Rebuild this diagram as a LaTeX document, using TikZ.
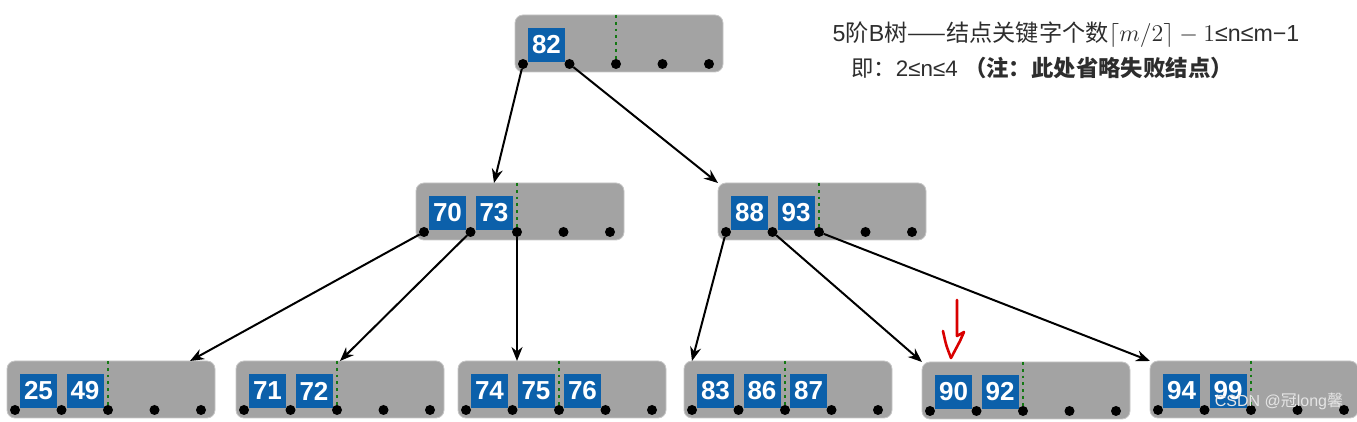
\documentclass[tikz,border=0pt]{standalone}
\usepackage{fontspec}
\setmainfont{Liberation Sans}
\newfontfamily\cjk{Noto Sans CJK SC}
\usetikzlibrary{arrows.meta,calc}

\definecolor{boxgray}{RGB}{163,163,163}
\definecolor{keyblue}{RGB}{12,96,170}
\definecolor{mingreen}{RGB}{20,120,20}
\definecolor{textgray}{RGB}{45,45,45}

% one B-tree node: name, left, top, keys
\newcommand{\btnode}[4]{%
  \node[btbox] (#1) at (#2,#3) {};
  \draw[minline] (#2+101,#3) -- (#2+101,#3+49);
  \foreach \k [count=\j from 0] in {#4}
    \node[btkey] (#1-k\j) at (#2+31.5+46.5*\j,#3+30) {\k};
  \foreach \i in {0,...,4}
    \node[ptr] (#1-\i) at (#2+8+46.5*\i,#3+49) {};
}

\begin{document}
\begin{tikzpicture}[x=0.5pt,y=-0.5pt,inner sep=0pt,outer sep=0pt,
btbox/.style={draw=gray!45,fill=boxgray,rounded corners=4pt,anchor=north west,minimum width=104pt,minimum height=28.5pt},
btkey/.style={fill=keyblue,text=white,minimum width=18.5pt,minimum height=17pt,font=\fontsize{13}{13}\selectfont\bfseries},
ptr/.style={circle,fill=black,minimum size=5pt},
minline/.style={mingreen,dotted,line width=1.4pt},
link/.style={line width=1pt,-{Stealth[length=7pt,width=5.5pt]}},
handred/.style={red!85!black,line width=1.3pt,line cap=round,line join=round}]

\useasboundingbox (0,0) rectangle (1357,422);

\btnode{r}{515}{15}{82}
\btnode{a}{416}{183}{70,73}
\btnode{b}{718}{183}{88,93}
\btnode{l1}{7}{361}{25,49}
\btnode{l2}{236}{361}{71,72}
\btnode{l3}{458}{361}{74,75,76}
\btnode{l4}{684}{361}{83,86,87}
\btnode{l5}{922}{362}{90,92}
\btnode{l6}{1150}{361}{94,99}

\draw[link] (r-0) -- (a-k1.north |- a.north);
\draw[link] (r-1) -- (b.north west);
\draw[link] (a-0) -- ($(l1.north east)+(-25,0)$);
\draw[link] (a-1) -- (l2.north);
\draw[link] (a-2) -- (a-2 |- l3.north);
\draw[link] (b-0) -- (l4-0 |- l4.north);
\draw[link] (b-1) -- (l5.north west);
\draw[link] (b-2) -- (l6.north west);

% hand-drawn mark
\draw[handred] (957,300) -- (957,336) -- (964,332) -- (960,341) .. controls (956,349) .. (951,358);
\draw[handred] (943,331) .. controls (946,345) .. (951,358);

\node[text=textgray,font=\fontsize{11.6}{11.6}\selectfont] (title) at (1066,35)
  {5{\cjk 阶}B{\cjk 树——结点关键字个数}$\lceil m/2\rceil - 1$≤n≤m−1};
\node[text=textgray,font=\fontsize{11.2}{11.2}\selectfont] (note) at (1042,68)
  {{\cjk 即：}2≤n≤4 {\cjk\bfseries （注：此处省略失败结点）}};

\node[text=gray!20,font=\fontsize{8}{8}\selectfont] (mark) at (1279,401) {CSDN @{\cjk 冠}long{\cjk 馨}};
\end{tikzpicture}
\end{document}
